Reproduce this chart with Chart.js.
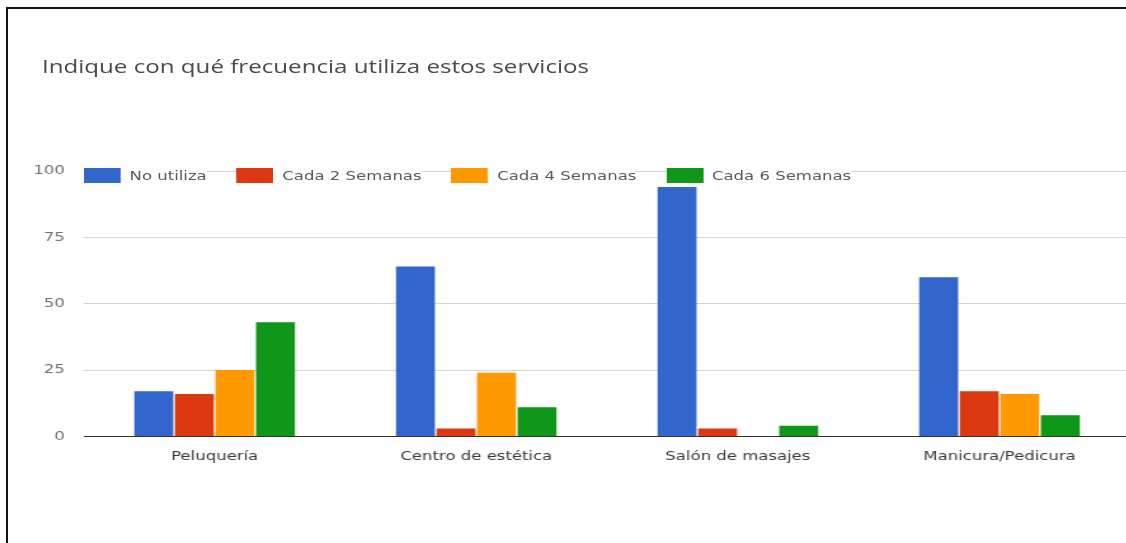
<!DOCTYPE html>
<html>
<head>
<meta charset="utf-8">
<script src="https://cdn.jsdelivr.net/npm/chart.js@4"></script>
<style>
  html, body { margin: 0; padding: 0; background: #fff; overflow: hidden; }
  .wrap { position: relative; width: 1126px; height: 543px; overflow: hidden; }
  .frame {
    position: absolute; left: 6px; top: 7px; width: 1200px; height: 700px;
    border-left: 2px solid #111; border-top: 2px solid #111;
  }
  /* the whole drawing is widened, text included */
  .stretch {
    position: absolute; left: 0; top: 0; width: 890px; height: 543px;
    transform: scaleX(1.27); transform-origin: 0 0;
  }
  #chart { position: absolute; left: 0; top: 0; }
  .title {
    position: absolute; left: 33px; top: 52.5px; line-height: 23px; white-space: nowrap;
    font: 19px "Open Sans", sans-serif; color: #4a4a4a;
  }
  .legend {
    position: absolute; left: 66px; top: 168px; display: flex; align-items: center;
    font: 13px "DejaVu Sans", sans-serif; color: #5a5a5a;
  }
  .legend .item { display: flex; align-items: center; background: #fff; height: 15px; margin-right: 23.5px; }
  .legend .box { width: 29px; height: 15px; margin-right: 7px; }
</style>
</head>
<body>
<div class="wrap">
  <div class="frame"></div>
  <div class="stretch">
    <canvas id="chart" width="890" height="543"></canvas>
    <div class="title">Indique con qué frecuencia utiliza estos servicios</div>
    <div class="legend" id="legend"></div>
  </div>
</div>
<script>
// services asked about
const categories = ['Peluquería', 'Centro de estética', 'Salón de masajes', 'Manicura/Pedicura'];
const seriesNames = ['No utiliza', 'Cada 2 Semanas', 'Cada 4 Semanas', 'Cada 6 Semanas'];

// answers per service
const noUtiliza = [17, 64, 94, 60];
const cada2Semanas = [16, 3, 3, 17];
const cada4Semanas = [25, 24, 0, 16];
const cada6Semanas = [43, 11, 4, 8];

const yTicks = [0, 25, 50, 75, 100];

const colors = ['#3366cc', '#dc3912', '#ff9900', '#109618'];
const labelFont = '"DejaVu Sans", sans-serif';

const values = [noUtiliza, cada2Semanas, cada4Semanas, cada6Semanas];

const datasets = seriesNames.map((name, i) => ({
  label: name,
  data: values[i],
  backgroundColor: colors[i],
  borderWidth: 0,
  barPercentage: 0.96,
  categoryPercentage: 0.62
}));

// legend sits on top of the plot, over the 100 gridline
const legendEl = document.getElementById('legend');
seriesNames.forEach((name, i) => {
  const item = document.createElement('div');
  item.className = 'item';
  item.innerHTML = '<span class="box" style="background:' + colors[i] + '"></span><span>' + name + '</span>';
  legendEl.appendChild(item);
});

new Chart(document.getElementById('chart'), {
  type: 'bar',
  data: { labels: categories, datasets: datasets },
  options: {
    responsive: false,
    animation: false,
    layout: { padding: { left: 20, right: 0, top: 171, bottom: 75 } },
    plugins: {
      legend: { display: false },
      tooltip: { enabled: false }
    },
    scales: {
      x: {
        grid: { display: false },
        border: { display: false },
        ticks: { color: '#3a3a3a', padding: 4, font: { family: labelFont, size: 13 } }
      },
      y: {
        min: 0,
        max: 100,
        afterBuildTicks: (scale) => { scale.ticks = yTicks.map(v => ({ value: v })); },
        afterFit: (scale) => { scale.width = 46; },
        border: { display: false },
        grid: {
          drawTicks: false,
          color: (ctx) => (ctx.tick && ctx.tick.value === 0 ? '#333' : '#d4d4d4')
        },
        ticks: { color: '#707070', padding: 15, font: { family: labelFont, size: 13 } }
      }
    }
  }
});
</script>
</body>
</html>
